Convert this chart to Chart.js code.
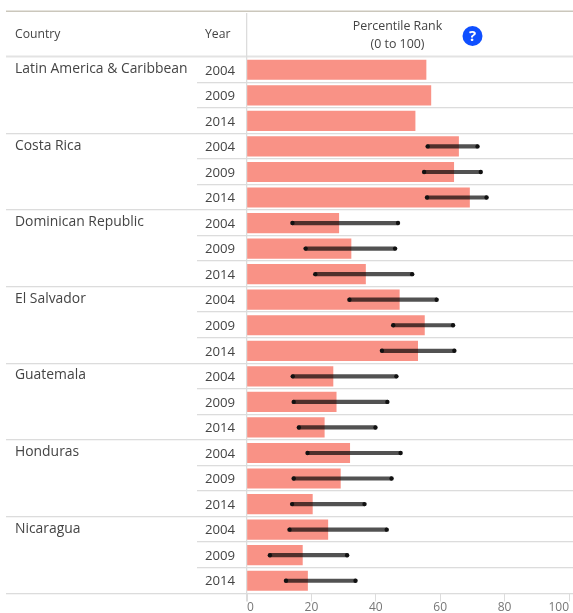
<!DOCTYPE html>
<html>
<head>
<meta charset="utf-8">
<style>html,body{margin:0;padding:0;background:#fff;overflow:hidden}canvas{display:block}</style>
<script src="https://cdn.jsdelivr.net/npm/chart.js@4"></script>
</head>
<body>
<canvas id="c" width="573" height="613"></canvas>
<script>
const countries = ["Latin America & Caribbean","Costa Rica","Dominican Republic","El Salvador","Guatemala","Honduras","Nicaragua"];
const years = ["2004","2009","2014"];
const rowLabels = countries.flatMap(() => years);
const rank = [55.6,57.1,52.2, 65.7,64.2,69.1, 28.5,32.3,36.8, 47.3,55.1,53.0, 26.7,27.7,24.0, 31.9,29.0,20.3, 25.1,17.2,18.8];
const low  = [null,null,null, 56.1,55.0,55.9, 14.1,18.2,21.2, 31.8,45.4,41.9, 14.2,14.5,16.1, 18.8,14.5,14.0, 13.2,7.1,12.1];
const high = [null,null,null, 71.6,72.6,74.4, 46.9,46.0,51.3, 58.9,64.0,64.4, 46.4,43.6,39.9, 47.7,44.9,36.5, 43.4,31.1,33.7];
const headers = {country:"Country", year:"Year", measure:["Percentile Rank","(0 to 100)"], help:"?"};
const FONT = '"Open Sans", "Noto Sans", sans-serif';
const TXT = '#444';

const tablePlugin = {
  id:'table',
  beforeDatasetsDraw(chart){
    const {ctx, scales:{y}, chartArea:a, width} = chart;
    const rowH = y.getPixelForTick(1) - y.getPixelForTick(0);
    ctx.save();
    ctx.fillStyle = '#cbc7bc';
    ctx.fillRect(6,10.5,width-6,1.5);
    rowLabels.forEach((_,i)=>{
      const yy = Math.round(y.getPixelForTick(i)+rowH/2);
      const group = (i%3===2);
      ctx.fillStyle = '#dcdcdc';
      ctx.fillRect(group?6:197, yy-1, width-(group?6:197), 1.3);
    });
    ctx.fillStyle='#e3e3e3';
    ctx.fillRect(6,a.top-1.5,width-6,2);
    ctx.fillStyle='#dcdcdc';
    ctx.fillRect(246,13,1.3,a.bottom+8-13);
    ctx.fillStyle=TXT;
    ctx.textBaseline='middle';
    ctx.textAlign='left';
    ctx.font='13.9px '+FONT;
    countries.forEach((n,i)=>{
      ctx.fillText(n,15,y.getPixelForTick(i*3)-0.8);
    });
    ctx.font='12.2px '+FONT;
    ctx.fillText(headers.country,15,34.5);
    ctx.fillText(headers.year,205,34.5);
    ctx.textAlign='center';
    ctx.font='12.4px '+FONT;
    ctx.fillText(headers.measure[0],397.5,26);
    ctx.fillText(headers.measure[1],397.5,44);
    ctx.beginPath();ctx.arc(472.5,36,10,0,Math.PI*2);ctx.fillStyle='#0f4fff';ctx.fill();
    ctx.fillStyle='#fff';ctx.font='bold 15px '+FONT;
    ctx.fillText(headers.help,472.5,36.5);
    ctx.restore();
  }
};

new Chart(document.getElementById('c'),{
  type:'bar',
  plugins:[tablePlugin],
  data:{
    labels:rowLabels,
    datasets:[
      {label:'Percentile Rank',data:rank,backgroundColor:'#f99286',barThickness:19.5,grouped:false,order:3},
      {label:'Range',data:low.map((v,i)=>v===null?null:[v,high[i]]),backgroundColor:'rgba(0,0,0,0.68)',barThickness:3.5,grouped:false,order:2},
      {type:'line',label:'Low',data:low,showLine:false,pointRadius:2.2,pointBackgroundColor:'#111',pointBorderWidth:0,order:1},
      {type:'line',label:'High',data:high,showLine:false,pointRadius:2.2,pointBackgroundColor:'#111',pointBorderWidth:0,order:1}
    ]
  },
  options:{
    indexAxis:'y',
    responsive:false,
    animation:false,
    events:[],
    layout:{padding:{left:205,right:2,top:57,bottom:0}},
    plugins:{legend:{display:false},tooltip:{enabled:false},title:{display:false}},
    scales:{
      x:{
        min:0,max:100,
        grid:{drawOnChartArea:false,drawTicks:true,tickLength:8,color:'#dcdcdc'},
        border:{display:false},
        ticks:{stepSize:20,maxRotation:0,autoSkip:false,align:'inner',padding:-1,color:'#777',font:{family:FONT,size:12}},
        afterFit(s){s.height=19.5;s.paddingLeft=0;s.paddingRight=0;}
      },
      y:{
        grid:{display:false},
        border:{display:false},
        ticks:{autoSkip:false,crossAlign:'far',padding:0,labelOffset:1,color:TXT,font:{family:FONT,size:13.2}},
        afterFit(s){s.width=42;s.paddingTop=0;s.paddingBottom=0;}
      }
    }
  }
});
</script>
</body>
</html>
